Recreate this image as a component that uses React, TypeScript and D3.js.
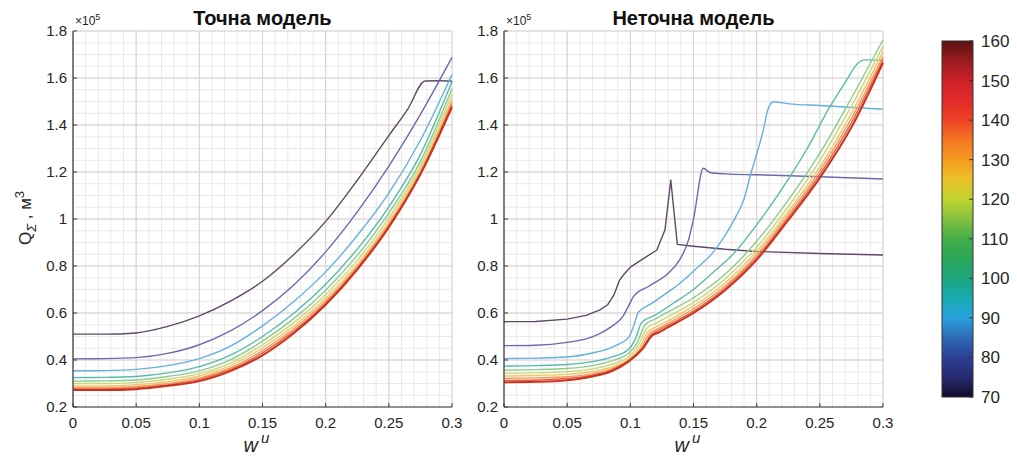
import * as d3 from 'd3';

const temps = [70, 80, 90, 100, 110, 120, 130, 140, 150, 160];
const lineColors = ['#5e4a68', '#6a6aae', '#62b2e0', '#56bcaa', '#8ccc8e', '#cbd878', '#f0c468', '#f09a5c', '#e4603c', '#c8321e'];
const xTicks = [0, 0.05, 0.1, 0.15, 0.2, 0.25, 0.3];
const yTicks = [0.2, 0.4, 0.6, 0.8, 1, 1.2, 1.4, 1.6, 1.8];
const cbTicks = [70, 80, 90, 100, 110, 120, 130, 140, 150, 160];
const cbStops: [number, string][] = [
	[70, '#140c2c'], [75, '#272a70'], [80, '#2e3f95'], [85, '#2c6bb6'], [90, '#2aa2dc'],
	[95, '#16aab0'], [100, '#1ca67c'], [105, '#2ba75a'], [110, '#44ad48'], [115, '#84c240'],
	[120, '#c0d42e'], [125, '#ecc22a'], [130, '#f69a20'], [135, '#f57622'], [140, '#ee4326'],
	[145, '#e22a2a'], [150, '#cc2128'], [155, '#9a1b20'], [160, '#5a1212'],
];

// точна модель: [w, Q·1e-5]
const exactCurves: [number, number][][] = [
	[[0, 0.51], [0.025, 0.51], [0.05, 0.515], [0.075, 0.543], [0.1, 0.588], [0.125, 0.652], [0.15, 0.735], [0.175, 0.85], [0.2, 0.99], [0.225, 1.165], [0.25, 1.355], [0.265, 1.468], [0.2787, 1.587], [0.29, 1.588], [0.3, 1.586]],
	[[0, 0.405], [0.025, 0.406], [0.05, 0.41], [0.075, 0.428], [0.1, 0.465], [0.125, 0.525], [0.15, 0.61], [0.175, 0.72], [0.2, 0.86], [0.225, 1.03], [0.25, 1.225], [0.275, 1.445], [0.3, 1.688]],
	[[0, 0.354], [0.025, 0.355], [0.05, 0.36], [0.075, 0.376], [0.1, 0.406], [0.125, 0.46], [0.15, 0.545], [0.175, 0.65], [0.2, 0.775], [0.225, 0.93], [0.25, 1.11], [0.275, 1.335], [0.3, 1.615]],
	[[0, 0.325], [0.025, 0.326], [0.05, 0.33], [0.075, 0.345], [0.1, 0.372], [0.125, 0.422], [0.15, 0.5], [0.175, 0.6], [0.2, 0.722], [0.225, 0.872], [0.25, 1.052], [0.275, 1.275], [0.3, 1.585]],
	[[0, 0.31], [0.025, 0.311], [0.05, 0.315], [0.075, 0.33], [0.1, 0.354], [0.125, 0.402], [0.15, 0.48], [0.175, 0.577], [0.2, 0.697], [0.225, 0.845], [0.25, 1.025], [0.275, 1.245], [0.3, 1.555]],
	[[0, 0.3], [0.025, 0.3], [0.05, 0.305], [0.075, 0.318], [0.1, 0.342], [0.125, 0.388], [0.15, 0.465], [0.175, 0.56], [0.2, 0.678], [0.225, 0.824], [0.25, 1.004], [0.275, 1.228], [0.3, 1.532]],
	[[0, 0.29], [0.025, 0.29], [0.05, 0.295], [0.075, 0.308], [0.1, 0.332], [0.125, 0.377], [0.15, 0.452], [0.175, 0.546], [0.2, 0.663], [0.225, 0.808], [0.25, 0.988], [0.275, 1.212], [0.3, 1.512]],
	[[0, 0.283], [0.025, 0.283], [0.05, 0.287], [0.075, 0.3], [0.1, 0.323], [0.125, 0.367], [0.15, 0.44], [0.175, 0.534], [0.2, 0.651], [0.225, 0.797], [0.25, 0.977], [0.275, 1.2], [0.3, 1.497]],
	[[0, 0.277], [0.025, 0.277], [0.05, 0.281], [0.075, 0.294], [0.1, 0.316], [0.125, 0.36], [0.15, 0.43], [0.175, 0.524], [0.2, 0.642], [0.225, 0.79], [0.25, 0.97], [0.275, 1.195], [0.3, 1.486]],
	[[0, 0.272], [0.025, 0.272], [0.05, 0.276], [0.075, 0.29], [0.1, 0.31], [0.125, 0.354], [0.15, 0.42], [0.175, 0.515], [0.2, 0.635], [0.225, 0.785], [0.25, 0.965], [0.275, 1.19], [0.3, 1.476]],
];

// неточна модель
const inexactCurves: [number, number][][] = [
	[[0, 0.563], [0.025, 0.564], [0.05, 0.574], [0.065, 0.59], [0.076, 0.613], [0.082, 0.635], [0.087, 0.677], [0.0915, 0.74], [0.095, 0.765], [0.1, 0.795], [0.11, 0.83], [0.121, 0.868], [0.1274, 0.953], [0.132, 1.166], [0.1372, 0.892], [0.15, 0.884], [0.175, 0.871], [0.2, 0.862], [0.25, 0.853], [0.3, 0.847]],
	[[0, 0.461], [0.025, 0.463], [0.05, 0.475], [0.065, 0.49], [0.075, 0.51], [0.085, 0.542], [0.094, 0.585], [0.1, 0.645], [0.1025, 0.67], [0.115, 0.715], [0.13, 0.769], [0.139, 0.826], [0.146, 0.91], [0.15, 1.0], [0.1578, 1.216], [0.163, 1.198], [0.175, 1.192], [0.2, 1.188], [0.25, 1.18], [0.3, 1.17]],
	[[0, 0.406], [0.025, 0.408], [0.05, 0.413], [0.07, 0.43], [0.08, 0.443], [0.09, 0.465], [0.0985, 0.495], [0.103, 0.55], [0.1063, 0.603], [0.117, 0.641], [0.13, 0.69], [0.14, 0.73], [0.151, 0.783], [0.166, 0.861], [0.175, 0.93], [0.183, 1.005], [0.19, 1.085], [0.1947, 1.18], [0.2053, 1.379], [0.2092, 1.471], [0.2132, 1.499], [0.226, 1.49], [0.25, 1.483], [0.3, 1.467]],
	[[0, 0.374], [0.025, 0.376], [0.05, 0.381], [0.07, 0.393], [0.085, 0.412], [0.0985, 0.445], [0.104, 0.49], [0.109, 0.56], [0.12, 0.592], [0.135, 0.645], [0.15, 0.7], [0.165, 0.77], [0.183, 0.86], [0.2, 0.975], [0.2264, 1.18], [0.24, 1.3], [0.258, 1.478], [0.27, 1.58], [0.2805, 1.665], [0.285, 1.677], [0.3, 1.675]],
	[[0, 0.357], [0.025, 0.359], [0.05, 0.364], [0.07, 0.376], [0.085, 0.396], [0.0985, 0.428], [0.105, 0.47], [0.1116, 0.549], [0.12, 0.575], [0.13, 0.605], [0.15, 0.665], [0.175, 0.765], [0.2, 0.905], [0.225, 1.08], [0.25, 1.28], [0.275, 1.515], [0.3, 1.762]],
	[[0, 0.343], [0.025, 0.345], [0.05, 0.35], [0.07, 0.362], [0.085, 0.381], [0.0985, 0.413], [0.106, 0.46], [0.113, 0.535], [0.12, 0.556], [0.13, 0.585], [0.15, 0.645], [0.175, 0.745], [0.2, 0.88], [0.225, 1.052], [0.25, 1.248], [0.275, 1.48], [0.3, 1.735]],
	[[0, 0.332], [0.025, 0.334], [0.05, 0.339], [0.07, 0.351], [0.085, 0.37], [0.0985, 0.403], [0.107, 0.45], [0.1142, 0.522], [0.12, 0.54], [0.13, 0.568], [0.15, 0.63], [0.175, 0.728], [0.2, 0.862], [0.225, 1.032], [0.25, 1.222], [0.275, 1.45], [0.3, 1.712]],
	[[0, 0.322], [0.025, 0.324], [0.05, 0.329], [0.07, 0.342], [0.085, 0.362], [0.0985, 0.398], [0.108, 0.445], [0.1155, 0.515], [0.12, 0.528], [0.13, 0.557], [0.15, 0.618], [0.175, 0.715], [0.2, 0.848], [0.225, 1.018], [0.25, 1.205], [0.275, 1.428], [0.3, 1.692]],
	[[0, 0.313], [0.025, 0.315], [0.05, 0.321], [0.07, 0.335], [0.085, 0.357], [0.0985, 0.396], [0.109, 0.443], [0.1165, 0.508], [0.12, 0.52], [0.13, 0.548], [0.15, 0.608], [0.175, 0.705], [0.2, 0.836], [0.225, 1.006], [0.25, 1.19], [0.275, 1.41], [0.3, 1.678]],
	[[0, 0.305], [0.025, 0.307], [0.05, 0.314], [0.07, 0.33], [0.085, 0.352], [0.0985, 0.393], [0.11, 0.45], [0.1175, 0.505], [0.122, 0.516], [0.13, 0.54], [0.15, 0.6], [0.175, 0.697], [0.2, 0.826], [0.225, 0.995], [0.25, 1.175], [0.275, 1.39], [0.3, 1.665]],
];

const font = 'Liberation Sans, Arial, Helvetica, sans-serif';
const txt = '#262626';
const axisCol = '#3c3c3c';
const plotTop = 31, plotBottom = 407, plotW = 379;

function Panel({ x0, title, curves, sharp }: { x0: number, title: string, curves: [number, number][][], sharp: number[] }) {
	const x = d3.scaleLinear().domain([0, 0.3]).range([x0, x0 + plotW]);
	const y = d3.scaleLinear().domain([0.2, 1.8]).range([plotBottom, plotTop]);
	const xMinor = d3.range(0, 31).map(i => i / 100);
	const yMinor = d3.range(0, 33).map(i => 0.2 + i * 0.05);
	const smooth = d3.line<[number, number]>().x(d => x(d[0])).y(d => y(d[1])).curve(d3.curveMonotoneX);
	const straight = d3.line<[number, number]>().x(d => x(d[0])).y(d => y(d[1]));
	const cx = x0 + plotW / 2;

	return (
		<g fontFamily={font}>
			{xMinor.map((v, i) => <line key={'xm' + i} x1={x(v)} x2={x(v)} y1={plotTop} y2={plotBottom} stroke='#ede8e8' />)}
			{yMinor.map((v, i) => <line key={'ym' + i} x1={x0} x2={x0 + plotW} y1={y(v)} y2={y(v)} stroke='#ede8e8' />)}
			{xTicks.map(v => <line key={'xg' + v} x1={x(v)} x2={x(v)} y1={plotTop} y2={plotBottom} stroke='#dbd2d2' />)}
			{yTicks.map(v => <line key={'yg' + v} x1={x0} x2={x0 + plotW} y1={y(v)} y2={y(v)} stroke='#dbd2d2' />)}

			{curves.map((c, i) => (
				<path key={temps[i]} d={(sharp.includes(i) ? straight : smooth)(c) || ''} fill='none'
					stroke={lineColors[i]} strokeWidth={i === curves.length - 1 ? 2 : 1.4} strokeLinejoin='round' />
			))}

			<line x1={x0} x2={x0 + plotW} y1={plotBottom} y2={plotBottom} stroke={axisCol} strokeWidth={1.2} />
			<line x1={x0} x2={x0} y1={plotTop} y2={plotBottom} stroke={axisCol} strokeWidth={1.2} />
			{xTicks.map(v => <line key={'xt' + v} x1={x(v)} x2={x(v)} y1={plotBottom} y2={plotBottom - 4} stroke={axisCol} />)}
			{yTicks.map(v => <line key={'yt' + v} x1={x0} x2={x0 + 4} y1={y(v)} y2={y(v)} stroke={axisCol} />)}

			{xTicks.map(v => <text key={'xl' + v} x={x(v)} y={plotBottom + 21} textAnchor='middle' fontSize={15} fill={txt}>{String(v)}</text>)}
			{yTicks.map(v => <text key={'yl' + v} x={x0 - 6} y={y(v) + 5} textAnchor='end' fontSize={15} fill={txt}>{String(v)}</text>)}

			<text x={x0 + 2} y={plotTop - 6} fontSize={12} fill={txt}>×10<tspan dy={-5} fontSize={9}>5</tspan></text>
			<text x={cx} y={25} textAnchor='middle' fontSize={20} fontWeight='bold' fill='#111'>{title}</text>
			<text x={cx - 6} y={452} textAnchor='middle' fontSize={20} fontStyle='italic' fill={txt}>w<tspan dx={3} dy={-9} fontSize={15}>u</tspan></text>
		</g>
	);
}

function ColorBar() {
	const x0 = 942, w = 31, top = 41, bottom = 397;
	const y = d3.scaleLinear().domain([70, 160]).range([bottom, top]);
	return (
		<g fontFamily={font}>
			<defs>
				<linearGradient id='cbGrad' x1='0' y1='1' x2='0' y2='0'>
					{cbStops.map(([t, c]) => <stop key={t} offset={(t - 70) / 90} stopColor={c} />)}
				</linearGradient>
			</defs>
			<rect x={x0} y={top} width={w} height={bottom - top} fill='url(#cbGrad)' stroke='#333' strokeWidth={1} />
			{cbTicks.map(t => <line key={'ct' + t} x1={x0 + w} x2={x0 + w - 4} y1={y(t)} y2={y(t)} stroke='#333' />)}
			{cbTicks.map(t => <text key={'cl' + t} x={x0 + 39} y={y(t) + 6} fontSize={17} fill={txt}>{t}</text>)}
		</g>
	);
}

export default function App() {
	return (
		<svg width={1017} height={459} style={{ position: 'absolute', left: 0, top: 0, background: '#fff' }}>
			<rect width={1017} height={459} fill='#fff' />
			<Panel x0={73} title='Точна модель' curves={exactCurves} sharp={[]} />
			<Panel x0={504} title='Неточна модель' curves={inexactCurves} sharp={[0]} />
			<text transform='translate(31,218) rotate(-90)' textAnchor='middle' fontFamily={font} fontSize={17} fill={txt}>
				Q<tspan dy={5} fontSize={13} fontStyle='italic'>Σ</tspan><tspan dy={-5}> , м</tspan><tspan dy={-7} fontSize={13}>3</tspan>
			</text>
			<ColorBar />
		</svg>
	);
}
